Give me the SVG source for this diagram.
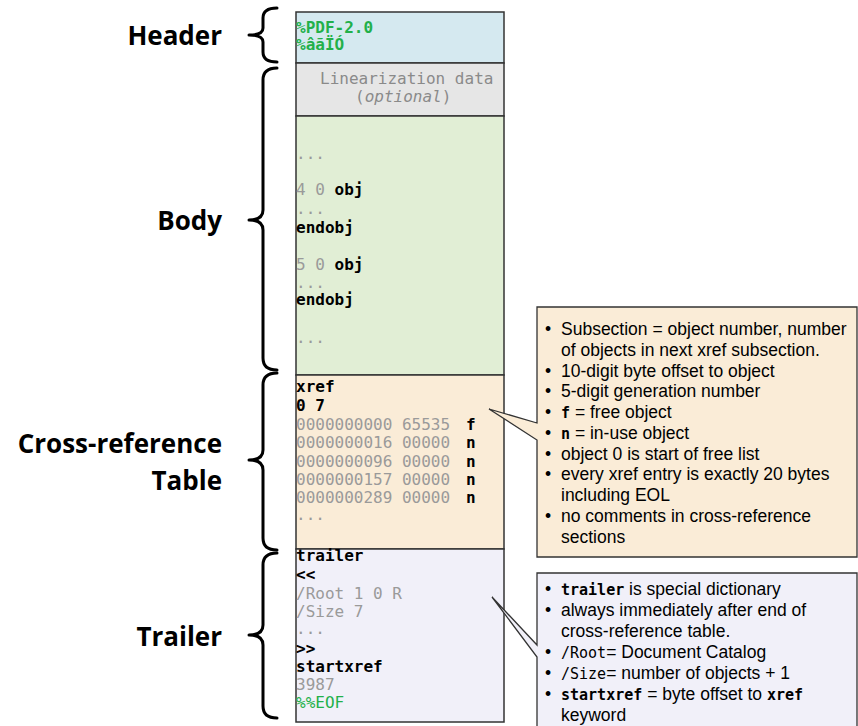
<svg xmlns="http://www.w3.org/2000/svg" width="858" height="726" viewBox="0 0 858 726">
  <style>
    .lbl { font-family: "Open Sans", "Noto Sans", sans-serif; font-weight: 700; font-size: 26px; fill: #000; text-anchor: end; }
    .brace { fill: none; stroke: #000; stroke-width: 3; stroke-linecap: round; stroke-linejoin: round; }
    .sec { stroke: #333; stroke-width: 1.5; }
    .mono { font-family: "DejaVu Sans Mono", "Liberation Mono", monospace; font-size: 16px; }
    .b { font-weight: 700; fill: #000; }
    .g { fill: #9a9a9a; }
    .grn { fill: #22b04a; }
    .note { font-family: "Liberation Sans", Arial, sans-serif; font-size: 17.5px; fill: #000; }
    .nm { font-family: "DejaVu Sans Mono", "Liberation Mono", monospace; font-size: 15px; }
    .callout { stroke: #333; stroke-width: 1.3; stroke-linejoin: miter; }
  </style>

  <!-- section labels with braces -->
  <g id="label-header">
    <text class="lbl" x="222" y="45">Header</text>
    <path class="brace" d="M277 8 Q263 8 263 18 L263 28 Q263 35 249 35 Q263 35 263 42 L263 52 Q263 62 277 62"/>
  </g>
  <g id="label-body">
    <text class="lbl" x="222" y="230">Body</text>
    <path class="brace" d="M277 68 Q263 68 263 80 L263 210 Q263 220 249 220 Q263 220 263 230 L263 358 Q263 370 277 370"/>
  </g>
  <g id="label-xref">
    <text class="lbl" x="222" y="453">Cross-reference</text>
    <text class="lbl" x="222" y="490">Table</text>
    <path class="brace" d="M277 373 Q263 373 263 385 L263 450 Q263 460 249 460 Q263 460 263 470 L263 538 Q263 550 277 550"/>
  </g>
  <g id="label-trailer">
    <text class="lbl" x="222" y="646">Trailer</text>
    <path class="brace" d="M277 553 Q263 553 263 565 L263 625 Q263 635 249 635 Q263 635 263 645 L263 706 Q263 718 277 718"/>
  </g>

  <!-- file layout column -->
  <g id="header">
    <rect class="sec" x="296" y="12" width="208" height="51" fill="#d5e9f0"/>
    <text class="mono b grn" x="296" y="33">%PDF-2.0</text>
    <text class="mono b grn" x="296" y="50">%âãÏÓ</text>
  </g>
  <g id="linearization">
    <rect class="sec" x="296" y="63" width="208" height="53" fill="#e6e6e6"/>
    <text class="mono" x="320" y="84" fill="#8a8a8a">Linearization data</text>
    <text class="mono" x="355" y="102" fill="#8a8a8a">(<tspan font-style="italic">optional</tspan>)</text>
  </g>
  <g id="body">
    <rect class="sec" x="296" y="116" width="208" height="259" fill="#e1eed5"/>
    <text class="mono g" x="296" y="159">...</text>
    <text class="mono" x="296" y="195"><tspan class="g">4 0 </tspan><tspan class="b">obj</tspan></text>
    <text class="mono g" x="296" y="214">...</text>
    <text class="mono b" x="296" y="233">endobj</text>
    <text class="mono" x="296" y="270"><tspan class="g">5 0 </tspan><tspan class="b">obj</tspan></text>
    <text class="mono g" x="296" y="288">...</text>
    <text class="mono b" x="296" y="305">endobj</text>
    <text class="mono g" x="296" y="343">...</text>
  </g>
  <g id="xref">
    <rect class="sec" x="296" y="375" width="208" height="174" fill="#faecd7"/>
    <text class="mono b" x="296" y="392">xref</text>
    <text class="mono b" x="296" y="411">0 7</text>
    <text class="mono g" x="296" y="430">0000000000 65535</text>
    <text class="mono g" x="296" y="448">0000000016 00000</text>
    <text class="mono g" x="296" y="467">0000000096 00000</text>
    <text class="mono g" x="296" y="485">0000000157 00000</text>
    <text class="mono g" x="296" y="503">0000000289 00000</text>
    <text class="mono b" x="466" y="430">f</text>
    <text class="mono b" x="466" y="448">n</text>
    <text class="mono b" x="466" y="467">n</text>
    <text class="mono b" x="466" y="485">n</text>
    <text class="mono b" x="466" y="503">n</text>
    <text class="mono g" x="296" y="520">...</text>
  </g>
  <g id="trailer">
    <rect class="sec" x="296" y="549" width="208" height="173" fill="#f1f0f9"/>
    <text class="mono b" x="296" y="561">trailer</text>
    <text class="mono b" x="296" y="580">&lt;&lt;</text>
    <text class="mono g" x="296" y="599">/Root 1 0 R</text>
    <text class="mono g" x="296" y="617">/Size 7</text>
    <text class="mono g" x="296" y="634">...</text>
    <text class="mono b" x="296" y="654">&gt;&gt;</text>
    <text class="mono b" x="296" y="672">startxref</text>
    <text class="mono g" x="296" y="690">3987</text>
    <text class="mono grn" x="296" y="708">%%EOF</text>
  </g>

  <!-- callout notes -->
  <g id="connectors">
    <path id="xref-note-shape" class="callout" fill="#faecd7" d="M537 307 H857 V557 H537 V440 L489 409 L537 423 Z"/>
    <path id="trailer-note-shape" class="callout" fill="#f1f0f9" d="M537 573 H857 V732 H537 V657 L492 597 L537 645 Z"/>
  </g>

  <g id="xref-note">
    <g class="note">
      <text x="545" y="335">•</text><text x="561" y="335">Subsection = object number, number</text>
      <text x="561" y="356">of objects in next xref subsection.</text>
      <text x="545" y="377">•</text><text x="561" y="377">10-digit byte offset to object</text>
      <text x="545" y="397">•</text><text x="561" y="397">5-digit generation number</text>
      <text x="545" y="418">•</text><text x="561" y="418"><tspan class="nm" font-weight="700">f</tspan> = free object</text>
      <text x="545" y="439">•</text><text x="561" y="439"><tspan class="nm" font-weight="700">n</tspan> = in-use object</text>
      <text x="545" y="460">•</text><text x="561" y="460">object 0 is start of free list</text>
      <text x="545" y="480">•</text><text x="561" y="480">every xref entry is exactly 20 bytes</text>
      <text x="561" y="501">including EOL</text>
      <text x="545" y="522">•</text><text x="561" y="522">no comments in cross-reference</text>
      <text x="561" y="543">sections</text>
    </g>
  </g>

  <g id="trailer-note">
    <g class="note">
      <text x="545" y="595">•</text><text x="561" y="595"><tspan class="nm" font-weight="700">trailer</tspan> is special dictionary</text>
      <text x="545" y="616">•</text><text x="561" y="616">always immediately after end of</text>
      <text x="561" y="637">cross-reference table.</text>
      <text x="545" y="658">•</text><text x="561" y="658"><tspan class="nm">/Root</tspan>= Document Catalog</text>
      <text x="545" y="679">•</text><text x="561" y="679"><tspan class="nm">/Size</tspan>= number of objects + 1</text>
      <text x="545" y="700">•</text><text x="561" y="700"><tspan class="nm" font-weight="700">startxref</tspan> = byte offset to <tspan class="nm" font-weight="700">xref</tspan></text>
      <text x="561" y="721">keyword</text>
    </g>
  </g>
</svg>
